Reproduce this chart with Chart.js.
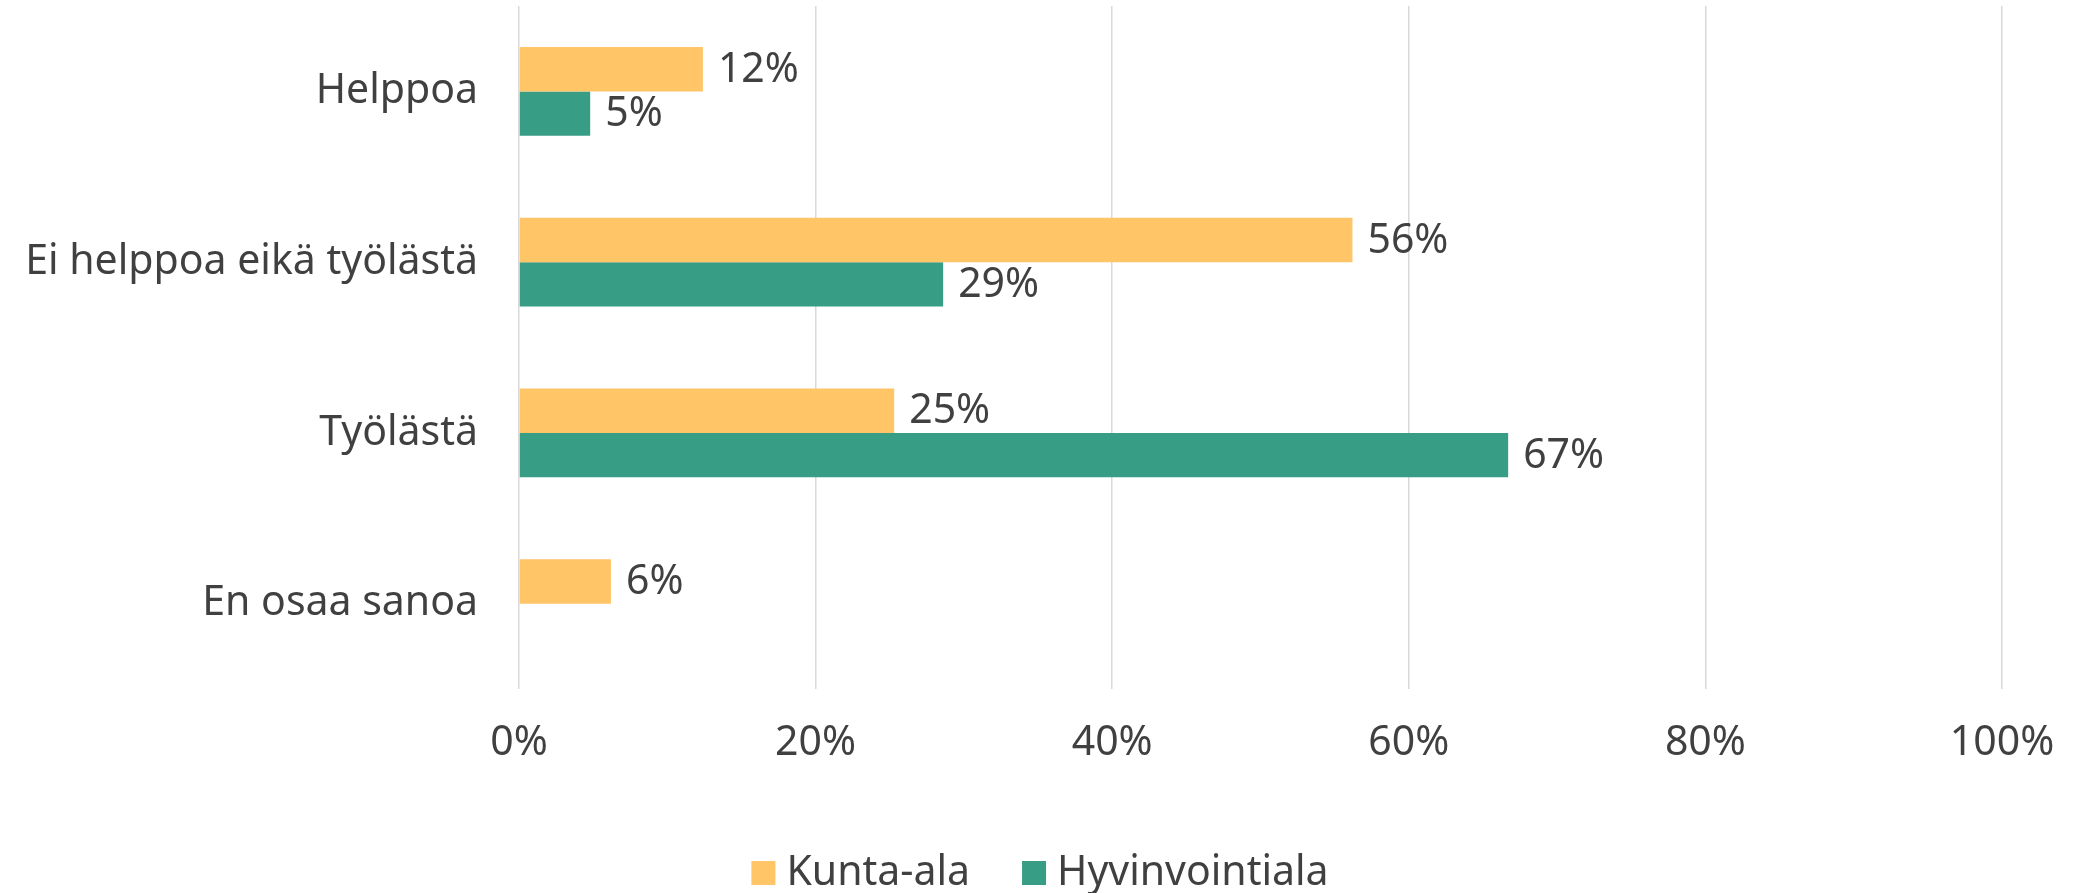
<!DOCTYPE html>
<html>
<head>
<meta charset="utf-8">
<script src="https://cdn.jsdelivr.net/npm/chart.js@4/dist/chart.umd.min.js"></script>
<style>
    html, body { margin: 0; padding: 0; background: #fff; }
    #wrap { width: 2080px; height: 893px; }
</style>
</head>
<body>
<div id="wrap"><canvas id="chart" width="2080" height="893"></canvas></div>
<script>
const categories = ['Helppoa', 'Ei helppoa eikä työlästä', 'Työlästä', 'En osaa sanoa'];
const kuntaAla = [12.4, 56.2, 25.3, 6.2];
const hyvinvointiala = [4.8, 28.6, 66.7, 0];
const xTickValues = [0, 20, 40, 60, 80, 100];

const FONT_FAMILY = 'Noto Sans';
const TEXT_COLOR = '#404040';
const FONT_SIZE = 41;

// draws the "12%" style labels just right of each bar end
const barLabels = {
    id: 'barLabels',
    afterDatasetsDraw(chart) {
        const ctx = chart.ctx;
        ctx.save();
        ctx.font = `${FONT_SIZE}px ${FONT_FAMILY}`;
        ctx.fillStyle = TEXT_COLOR;
        ctx.textAlign = 'left';
        ctx.textBaseline = 'middle';
        chart.data.datasets.forEach((ds, i) => {
            chart.getDatasetMeta(i).data.forEach((bar, j) => {
                const v = ds.data[j];
                if (!v) return;
                ctx.fillText(Math.round(v) + '%', bar.x + 15, bar.y + 1);
            });
        });
        ctx.restore();
    },
};

// simple legend under the axis, centred on the canvas
const bottomLegend = {
    id: 'bottomLegend',
    afterDraw(chart) {
        const ctx = chart.ctx;
        const box = 24, gap = 11, itemGap = 52;
        const cy = 873;
        ctx.save();
        ctx.font = `${FONT_SIZE}px ${FONT_FAMILY}`;
        ctx.textBaseline = 'middle';
        ctx.textAlign = 'left';
        const items = chart.data.datasets.map((ds) => ({
            text: ds.label,
            color: ds.backgroundColor,
            w: ctx.measureText(ds.label).width,
        }));
        let total = 0;
        items.forEach((it, i) => {
            total += box + gap + it.w + (i < items.length - 1 ? itemGap : 0);
        });
        let x = chart.width / 2 - total / 2;
        items.forEach((it) => {
            ctx.fillStyle = it.color;
            ctx.fillRect(x, cy - box / 2, box, box);
            x += box + gap;
            ctx.fillStyle = TEXT_COLOR;
            ctx.fillText(it.text, x, cy);
            x += it.w + itemGap;
        });
        ctx.restore();
    },
};

const config = {
    type: 'bar',
    data: {
        labels: categories,
        datasets: [
            {
                label: 'Kunta-ala',
                data: kuntaAla,
                backgroundColor: '#FFC567',
                categoryPercentage: 0.52,
                barPercentage: 1.0,
            },
            {
                label: 'Hyvinvointiala',
                data: hyvinvointiala,
                backgroundColor: '#389D85',
                categoryPercentage: 0.52,
                barPercentage: 1.0,
            },
        ],
    },
    options: {
        indexAxis: 'y',
        responsive: false,
        animation: false,
        layout: {
            padding: { left: 0, right: 78, top: 6, bottom: 104 },
        },
        scales: {
            x: {
                min: 0,
                max: 100,
                afterBuildTicks: (scale) => {
                    scale.ticks = xTickValues.map((v) => ({ value: v }));
                },
                afterFit: (scale) => {
                    scale.height = 100;
                    scale.paddingLeft = 0;
                    scale.paddingRight = 0;
                },
                ticks: {
                    callback: (v) => v + '%',
                    color: TEXT_COLOR,
                    font: { family: FONT_FAMILY, size: FONT_SIZE },
                    padding: 30,
                    maxRotation: 0,
                },
                grid: {
                    color: '#D9D9D9',
                    lineWidth: 1.5,
                    drawTicks: false,
                },
                border: { display: false },
            },
            y: {
                afterFit: (scale) => {
                    scale.width = 519;
                    scale.paddingTop = 0;
                    scale.paddingBottom = 0;
                },
                ticks: {
                    color: TEXT_COLOR,
                    font: { family: FONT_FAMILY, size: FONT_SIZE },
                    padding: 33,
                },
                grid: { display: false },
                border: { display: false },
            },
        },
        plugins: {
            legend: { display: false },
            tooltip: { enabled: false },
        },
    },
    plugins: [barLabels, bottomLegend],
};

new Chart(document.getElementById('chart'), config);
</script>
</body>
</html>
